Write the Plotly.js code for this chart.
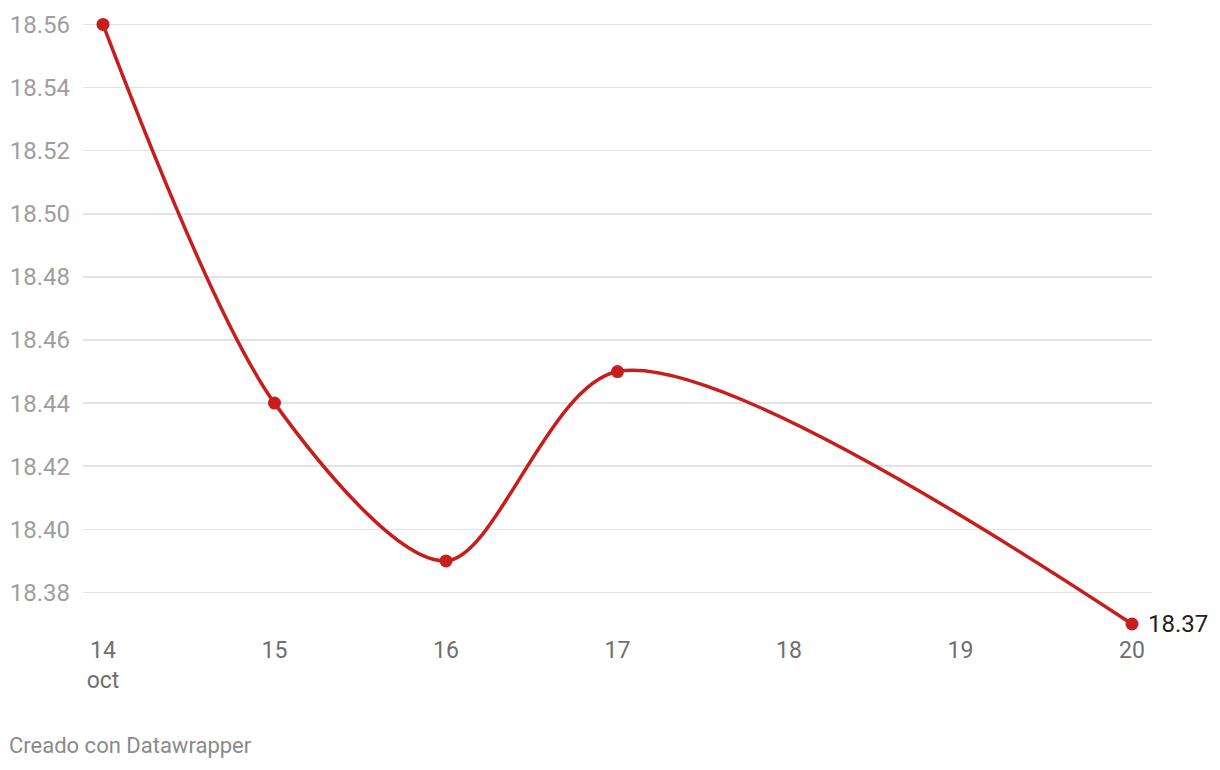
<!DOCTYPE html>
<html>
<head>
<meta charset="utf-8">
<script src="https://cdn.plot.ly/plotly-3.0.1.min.js"></script>
<style>
html,body{margin:0;padding:0;background:#fff;}
#chart{width:1220px;height:770px;}
</style>
</head>
<body>
<div id="chart"></div>
<script>
const days = [14, 15, 16, 17, 20];
const values = [18.56, 18.44, 18.39, 18.45, 18.37];
const xTickVals = [14, 15, 16, 17, 18, 19, 20];
const xTickText = ['14<br>oct', '15', '16', '17', '18', '19', '20'];
const yTickVals = [18.38, 18.40, 18.42, 18.44, 18.46, 18.48, 18.50, 18.52, 18.54, 18.56];
const lastLabel = '18.37';
const footer = 'Creado con Datawrapper';

const red = '#c71e1d';
const font = 'Roboto, sans-serif';

const trace = {
  x: days, y: values, type: 'scatter', mode: 'lines+markers',
  line: {color: red, width: 3.5, shape: 'spline', smoothing: 0.85},
  marker: {color: red, size: 13},
  cliponaxis: false, hoverinfo: 'skip'
};

const layout = {
  width: 1220, height: 770,
  margin: {l: 83, r: 68, t: 14.5, b: 146},
  paper_bgcolor: '#fff', plot_bgcolor: '#fff',
  showlegend: false,
  font: {family: font},
  xaxis: {
    range: [13.8834, 20.1166],
    tickvals: xTickVals, ticktext: xTickText,
    showgrid: false, zeroline: false, showline: false,
    ticks: '', ticklabelstandoff: 10,
    tickfont: {family: font, size: 23, color: '#6f6f6f'},
    fixedrange: true
  },
  yaxis: {
    range: [18.37, 18.563],
    tickvals: yTickVals,
    tickformat: '.2f',
    showgrid: true, gridcolor: '#e3e3e3', gridwidth: 1.5,
    zeroline: false, showline: false,
    ticks: '', ticklabelstandoff: 12,
    tickfont: {family: font, size: 24, color: '#9e9e9e'},
    fixedrange: true
  },
  annotations: [
    {x: days[days.length-1], y: values[values.length-1], xref: 'x', yref: 'y',
     text: lastLabel, showarrow: false, xanchor: 'left', yanchor: 'middle',
     xshift: 14, font: {family: font, size: 24, color: '#222'}},
    {x: 0, y: 0, xref: 'paper', yref: 'paper', text: footer, showarrow: false,
     xanchor: 'left', yanchor: 'middle', xshift: -76, yshift: -121,
     font: {family: font, size: 22, color: '#8a8a8a'}}
  ]
};

Plotly.newPlot('chart', [trace], layout, {displayModeBar: false, staticPlot: true});
</script>
</body>
</html>
